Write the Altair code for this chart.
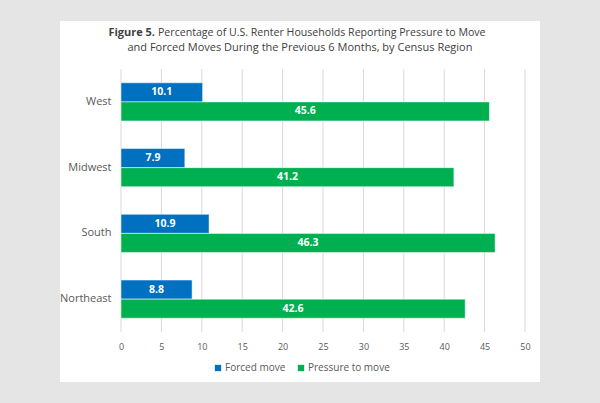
import altair as alt
import pandas as pd

regions = ["West", "Midwest", "South", "Northeast"]
series = ["Forced move", "Pressure to move"]
forced = [10.1, 7.9, 10.9, 8.8]
pressure = [45.6, 41.2, 46.3, 42.6]
colors = ["#0070C0", "#00B050"]
x_ticks = list(range(0, 51, 5))

title_bold = "Figure 5."
title_rest1 = "Percentage of U.S. Renter Households Reporting Pressure to Move"
title_line2 = "and Forced Moves During the Previous 6 Months, by Census Region"

FONT = "Open Sans"
W, H = 404, 263

rows = []
for r, f, p in zip(regions, forced, pressure):
    rows.append({"region": r, "series": series[0], "value": f})
    rows.append({"region": r, "series": series[1], "value": p})
df = pd.DataFrame(rows)

x_scale = alt.Scale(domain=[0, 50], nice=False)
x_axis = alt.Axis(values=x_ticks, labelColor="#595959", labelFontSize=9,
                  labelFont=FONT, ticks=False, domain=False, grid=False,
                  labelPadding=10, zindex=1, title=None, labelFlush=False)

y_enc = alt.Y("region:N", sort=regions, title=None,
              scale=alt.Scale(paddingInner=0.42, paddingOuter=0.21),
              axis=alt.Axis(labelColor="#595959", labelFontSize=11, labelFont=FONT,
                            ticks=False, domain=False, labelPadding=10, zindex=1))

panel = alt.Chart(pd.DataFrame({"a": [0]})).mark_rect(color="white").encode(
    x=alt.value(-61), x2=alt.value(419), y=alt.value(-48), y2=alt.value(313)
)

grid = alt.Chart(pd.DataFrame({"t": x_ticks})).mark_rule(
    color="#d9d9d9", strokeWidth=1).encode(
    x=alt.X("t:Q", scale=x_scale, axis=x_axis, title=None),
    y=alt.value(0), y2=alt.value(H),
)

bars = alt.Chart(df).mark_bar(stroke="white", strokeWidth=0.5).encode(
    y=y_enc,
    yOffset=alt.YOffset("series:N", sort=series),
    x=alt.X("value:Q", scale=x_scale, axis=x_axis, title=None),
    color=alt.Color("series:N", sort=series,
                    scale=alt.Scale(domain=series, range=colors),
                    legend=alt.Legend(title=None, orient="none", direction="horizontal",
                                      legendX=92, legendY=294, symbolType="square",
                                      symbolSize=40, symbolStrokeWidth=0,
                                      labelFont=FONT, labelFontSize=10,
                                      labelColor="#595959", columnPadding=10,
                                      labelOffset=2)),
)

labels = alt.Chart(df).transform_calculate(
    mid="datum.value / 2",
    lab="format(datum.value, '.1f')",
).mark_text(color="white", fontWeight="bold", fontSize=10.5, font=FONT).encode(
    y=alt.Y("region:N", sort=regions),
    yOffset=alt.YOffset("series:N", sort=series),
    x=alt.X("mid:Q"),
    text="lab:N",
)

tdf = pd.DataFrame({"bold": [title_bold], "rest": [title_rest1], "l2": [title_line2]})
t_bold = alt.Chart(tdf).mark_text(align="right", fontWeight="bold", fontSize=11,
                                  font=FONT, color="#404040").encode(
    x=alt.value(34), y=alt.value(-36), text="bold:N")
t_rest = alt.Chart(tdf).mark_text(align="left", fontSize=10.6, font=FONT,
                                  color="#404040").encode(
    x=alt.value(37), y=alt.value(-36), text="rest:N")
t_l2 = alt.Chart(tdf).mark_text(align="center", fontSize=11, font=FONT,
                                color="#404040").encode(
    x=alt.value(179), y=alt.value(-21), text="l2:N")

chart = alt.layer(panel, grid, bars, labels, t_bold, t_rest, t_l2).properties(
    width=W, height=H,
    autosize=alt.AutoSizeParams(type="none"),
    padding={"left": 121, "top": 69, "right": 75, "bottom": 71},
    background="#e5e5e5",
).configure_view(stroke=None)

chart.save("out.html", embed_options={"renderer": "svg", "actions": False})
